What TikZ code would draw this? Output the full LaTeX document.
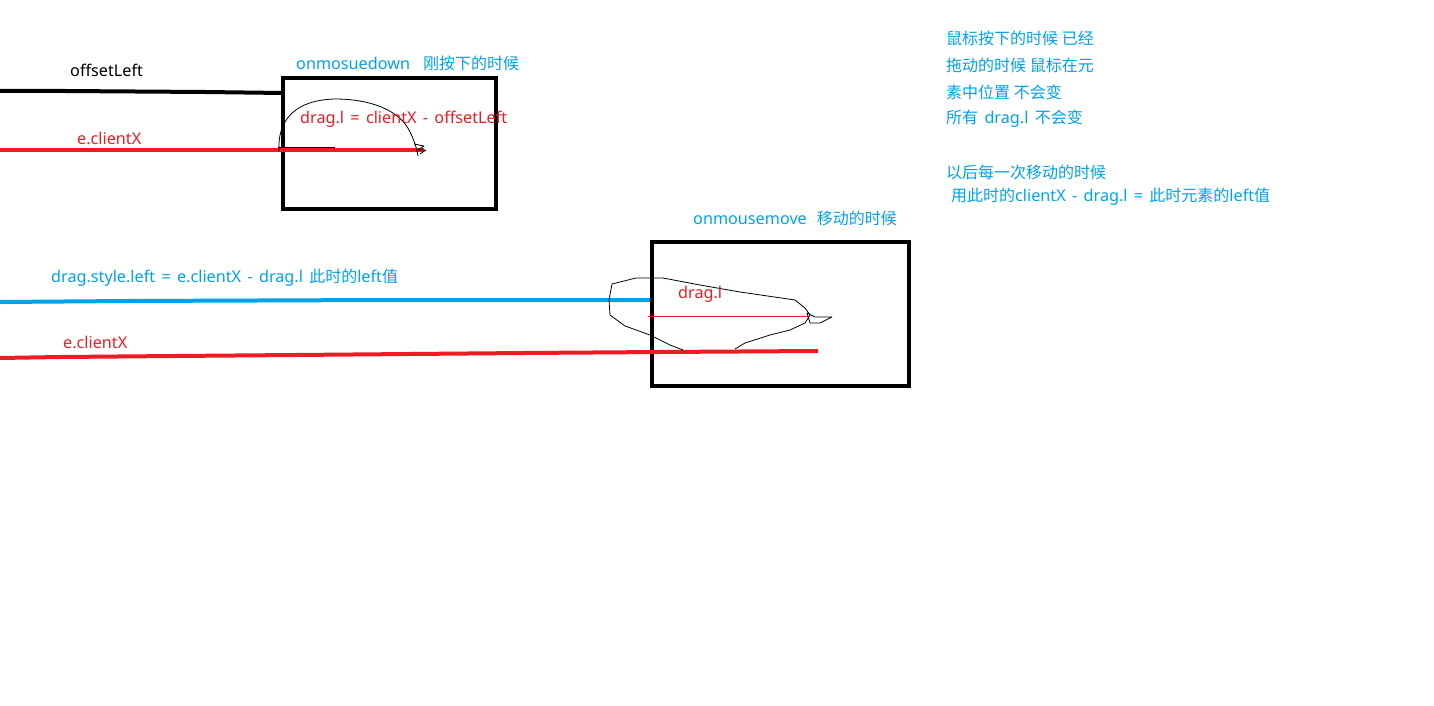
\documentclass[tikz,border=0pt]{standalone}
\usepackage{fontspec}
\setmainfont[WordSpace=1.5]{Noto Sans}
\newfontfamily\cjk{Noto Sans CJK SC}
\newcommand{\zh}[1]{{\cjk\fontsize{16}{18}\selectfont #1}}
\definecolor{pblue}{RGB}{0,162,232}
\definecolor{pred}{RGB}{237,28,36}
\begin{document}
\begin{tikzpicture}[x=1pt,y=-1pt,
  lbl/.style={anchor=west,inner sep=0pt,font=\fontsize{16.2}{18}\selectfont},
  bluetxt/.style={lbl,text=pblue},
  redtxt/.style={lbl,text=pred},
  blacktxt/.style={lbl,text=black},
  thick4/.style={line width=4pt},
  boxst/.style={draw=black,line width=4pt},
  sketch/.style={draw=black,line width=0.8pt,line join=round}]
\useasboundingbox[fill=white] (0,0) rectangle (1434,706);

% boxes
\draw[boxst] (283,78) rectangle (496,209);
\draw[boxst] (652,242) rectangle (909,386);

% coordinates
\coordinate (b0) at (0,91);
\coordinate (b1) at (65,91);
\coordinate (b2) at (205,92);
\coordinate (b3) at (283,93);
\coordinate (r0) at (0,150);
\coordinate (r1) at (424,150);
\coordinate (u0) at (0,302);
\coordinate (u1) at (128,301);
\coordinate (u2) at (385,300);
\coordinate (u3) at (650,300);
\coordinate (s0) at (0,358);
\coordinate (s1) at (60,357);
\coordinate (s2) at (175,356);
\coordinate (s3) at (295,355);
\coordinate (s4) at (410,354);
\coordinate (s5) at (525,353);
\coordinate (s6) at (660,352);
\coordinate (s7) at (818,351);
\coordinate (t0) at (648,316);
\coordinate (t1) at (808,316);

% thick lines
\draw[thick4] (b0) -- (b1) -- (b2) -- (b3);
\draw[thick4,pred] (r0) -- (r1);
\draw[thick4,pblue] (u0) -- (u1) -- (u2) -- (u3);
\draw[thick4,pred] (s0) -- (s1) -- (s2) -- (s3) -- (s4) -- (s5) -- (s6) -- (s7);
\draw[pred,line width=1pt] (t0) -- (t1);

% sketch curves
\draw[sketch] (279,152) .. controls (277,120) and (295,100) .. (335,99)
  .. controls (370,99) and (400,110) .. (410,132) .. controls (415,142) and (417,150) .. (418,156);
\draw[sketch] (278,147) -- (335,147);
\draw[sketch] (414,144) -- (424,146) -- (418,150) -- (426,150) -- (420,154);
\draw[sketch] (612,284) -- (636,278) -- (663,278) -- (700,285) -- (740,292) -- (795,300)
  -- (805,308) -- (810,315) -- (805,323) -- (790,330) -- (770,335) -- (745,343) -- (735,349);
\draw[sketch] (612,284) -- (609,300) -- (610,315) -- (625,326) -- (650,335) -- (670,345) -- (683,350);
\draw[sketch] (807,313) -- (815,317) -- (832,317) -- (820,323) -- (810,323) -- cycle;

% texts
\node[blacktxt] (offs) at (70,70) {offsetLeft};
\node[redtxt] (ecx1) at (77,138) {e.clientX};
\node[bluetxt] (down) at (296,63) {onmosuedown\hspace{13pt}\zh{刚按下的时候}};
\node[redtxt] (dl1) at (300,119) {drag.l = clientX - offsetLeft};
\node[bluetxt] (move) at (693,218) {onmousemove\hspace{10pt}\zh{移动的时候}};
\node[bluetxt] (dsl) at (51,278) {drag.style.left = e.clientX - drag.l \zh{此时的}left\zh{值}};
\node[redtxt] (ecx2) at (63,342) {e.clientX};
\node[redtxt] (dl2) at (678,294) {drag.l};

\node[bluetxt] (n1) at (946,38) {\zh{鼠标按下的时候 已经}};
\node[bluetxt] (n2) at (946,65) {\zh{拖动的时候 鼠标在元}};
\node[bluetxt] (n3) at (946,92) {\zh{素中位置 不会变}};
\node[bluetxt] (n4) at (946,119) {\zh{所有} drag.l \zh{不会变}};
\node[bluetxt] (n5) at (946,172) {\zh{以后每一次移动的时候}};
\node[bluetxt] (n6) at (951,197) {\zh{用此时的}clientX - drag.l = \zh{此时元素的}left\zh{值}};
\end{tikzpicture}
\end{document}
